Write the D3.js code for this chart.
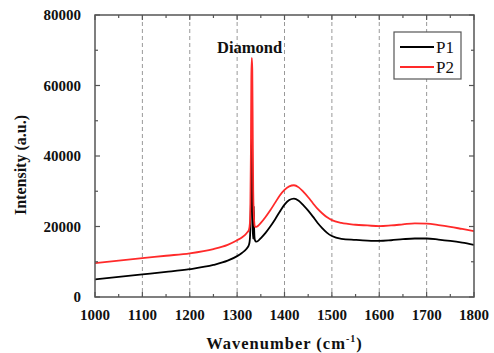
<!DOCTYPE html>
<html>
<head>
<meta charset="utf-8">
<script src="https://cdn.jsdelivr.net/npm/d3@7"></script>
<style>
  html, body { margin: 0; padding: 0; background: #fff; }
  svg { display: block; }
  svg text { font-family: 'Liberation Serif', 'Times New Roman', Times, serif; }
</style>
</head>
<body>
<div id="chart"></div>
<script>
// Raman spectra
const wavenumbers = [1000, 1050, 1100, 1150, 1200, 1250, 1280, 1300, 1310, 1320, 1325, 1327, 1328, 1329, 1330, 1331, 1332, 1333, 1334, 1335, 1336, 1337, 1338, 1340, 1345, 1350, 1360, 1370, 1380, 1390, 1400, 1410, 1420, 1430, 1440, 1450, 1460, 1470, 1480, 1490, 1500, 1520, 1550, 1575, 1600, 1625, 1650, 1675, 1700, 1725, 1750, 1775, 1800]
const p1 = [5000, 5700, 6400, 7100, 7900, 9100, 10300, 11600, 12500, 13700, 14800, 16500, 20000, 26000, 38000, 45000, 32000, 19000, 16500, 25800, 19000, 16500, 16000, 15700, 16000, 16700, 18200, 20000, 22000, 24200, 26200, 27500, 27900, 27300, 26000, 24500, 22800, 21000, 19500, 18200, 17300, 16500, 16200, 16000, 15900, 16100, 16400, 16600, 16600, 16300, 15900, 15400, 14800]
const p2 = [9600, 10300, 11000, 11700, 12400, 13600, 14800, 16100, 16900, 18100, 19100, 21000, 26000, 40000, 62000, 67800, 64500, 46000, 30000, 24000, 21500, 20200, 19900, 19900, 20300, 21000, 22700, 24600, 26700, 28800, 30400, 31400, 31700, 31100, 29800, 28300, 26600, 25000, 23700, 22600, 21800, 21000, 20500, 20300, 20100, 20300, 20600, 20900, 20800, 20400, 19900, 19300, 18700]
const seriesNames = ['P1', 'P2']
const seriesColors = ['#000000', '#ff2a2a']
const xTicks = [1000, 1100, 1200, 1300, 1400, 1500, 1600, 1700, 1800]
const yTicks = [0, 20000, 40000, 60000, 80000]
const gridTicks = [1100, 1200, 1300, 1400, 1500, 1600, 1700]

const width = 494
const height = 353
const margin = { top: 15, right: 20, bottom: 56, left: 95 }
const innerWidth = width - margin.left - margin.right
const innerHeight = height - margin.top - margin.bottom
const axisColor = '#555'

const x = d3.scaleLinear().domain([1000, 1800]).range([0, innerWidth])
const y = d3.scaleLinear().domain([0, 80000]).range([innerHeight, 0])

const svg = d3.select('#chart')
  .append('svg')
  .attr('width', width)
  .attr('height', height)

const chart = svg.append('g')
  .attr('transform', `translate(${margin.left},${margin.top})`)

// dashed vertical grid
chart.selectAll('.grid')
  .data(gridTicks)
  .join('line')
  .attr('x1', d => x(d))
  .attr('x2', d => x(d))
  .attr('y1', 0)
  .attr('y2', innerHeight)
  .attr('stroke', '#999')
  .attr('stroke-width', 1)
  .attr('stroke-dasharray', '4 3')

const clip = svg.append('defs').append('clipPath').attr('id', 'plot-clip')
clip.append('rect').attr('width', innerWidth).attr('height', innerHeight)

const line = d3.line()
  .x((d, i) => x(wavenumbers[i]))
  .y(d => y(d))
  .curve(d3.curveMonotoneX)

const plot = chart.append('g').attr('clip-path', 'url(#plot-clip)')
;[p1, p2].forEach((values, i) => {
  plot.append('path')
    .datum(values)
    .attr('d', line)
    .attr('fill', 'none')
    .attr('stroke', seriesColors[i])
    .attr('stroke-width', 1.8)
    .attr('stroke-linejoin', 'round')
})

// ticks on all four sides, pointing inward
const minorX = d3.range(1050, 1800, 100)
const minorY = d3.range(10000, 80000, 20000)
const tickGroup = chart.append('g').attr('stroke', axisColor).attr('stroke-width', 1.2)
const tickX = (vals, len) => {
  vals.forEach(v => {
    tickGroup.append('line').attr('x1', x(v)).attr('x2', x(v)).attr('y1', innerHeight).attr('y2', innerHeight - len)
    tickGroup.append('line').attr('x1', x(v)).attr('x2', x(v)).attr('y1', 0).attr('y2', len)
  })
}
const tickY = (vals, len) => {
  vals.forEach(v => {
    tickGroup.append('line').attr('x1', 0).attr('x2', len).attr('y1', y(v)).attr('y2', y(v))
    tickGroup.append('line').attr('x1', innerWidth).attr('x2', innerWidth - len).attr('y1', y(v)).attr('y2', y(v))
  })
}
tickX(xTicks, 5)
tickX(minorX, 3)
tickY(yTicks, 5)
tickY(minorY, 3)

chart.append('rect')
  .attr('width', innerWidth)
  .attr('height', innerHeight)
  .attr('fill', 'none')
  .attr('stroke', axisColor)
  .attr('stroke-width', 1.5)

// tick labels
chart.selectAll('.xlabel')
  .data(xTicks)
  .join('text')
  .attr('x', d => x(d))
  .attr('y', innerHeight + 23)
  .attr('text-anchor', 'middle')
  .attr('font-size', 15)
  .attr('font-weight', 'bold')
  .attr('fill', '#111')
  .text(d => d)

chart.selectAll('.ylabel')
  .data(yTicks)
  .join('text')
  .attr('x', -14)
  .attr('y', d => y(d))
  .attr('dy', '0.35em')
  .attr('text-anchor', 'end')
  .attr('font-size', 15)
  .attr('font-weight', 'bold')
  .attr('fill', '#111')
  .text(d => d)

// axis titles
const xTitle = svg.append('text')
  .attr('x', margin.left + innerWidth / 2)
  .attr('y', 349)
  .attr('text-anchor', 'middle')
  .attr('font-size', 16.5)
  .attr('font-weight', 'bold')
  .attr('letter-spacing', 1)
  .attr('fill', '#111')
xTitle.append('tspan').text('Wavenumber (cm')
xTitle.append('tspan').text('-1').attr('font-size', 10).attr('dy', -7)
xTitle.append('tspan').text(')').attr('dy', 7)

svg.append('text')
  .attr('transform', 'translate(26,165) rotate(-90)')
  .attr('text-anchor', 'middle')
  .attr('font-size', 16)
  .attr('font-weight', 'bold')
  .attr('fill', '#111')
  .text('Intensity (a.u.)')

// peak annotation
chart.append('text')
  .attr('x', 217 - margin.left)
  .attr('y', 53 - margin.top)
  .attr('font-size', 16.5)
  .attr('font-weight', 'bold')
  .attr('fill', '#111')
  .text('Diamond')

// legend
const legend = svg.append('g').attr('transform', 'translate(394,32)')
legend.append('rect')
  .attr('width', 67)
  .attr('height', 47)
  .attr('fill', '#fff')
  .attr('stroke', axisColor)
  .attr('stroke-width', 1.2)
seriesNames.forEach((name, i) => {
  const ly = 15 + i * 20
  legend.append('line')
    .attr('x1', 6)
    .attr('x2', 40)
    .attr('y1', ly)
    .attr('y2', ly)
    .attr('stroke', seriesColors[i])
    .attr('stroke-width', 1.8)
  legend.append('text')
    .attr('x', 42)
    .attr('y', ly)
    .attr('dy', '0.35em')
    .attr('font-size', 17)
    .attr('fill', '#111')
    .text(name)
})
</script>
</body>
</html>
